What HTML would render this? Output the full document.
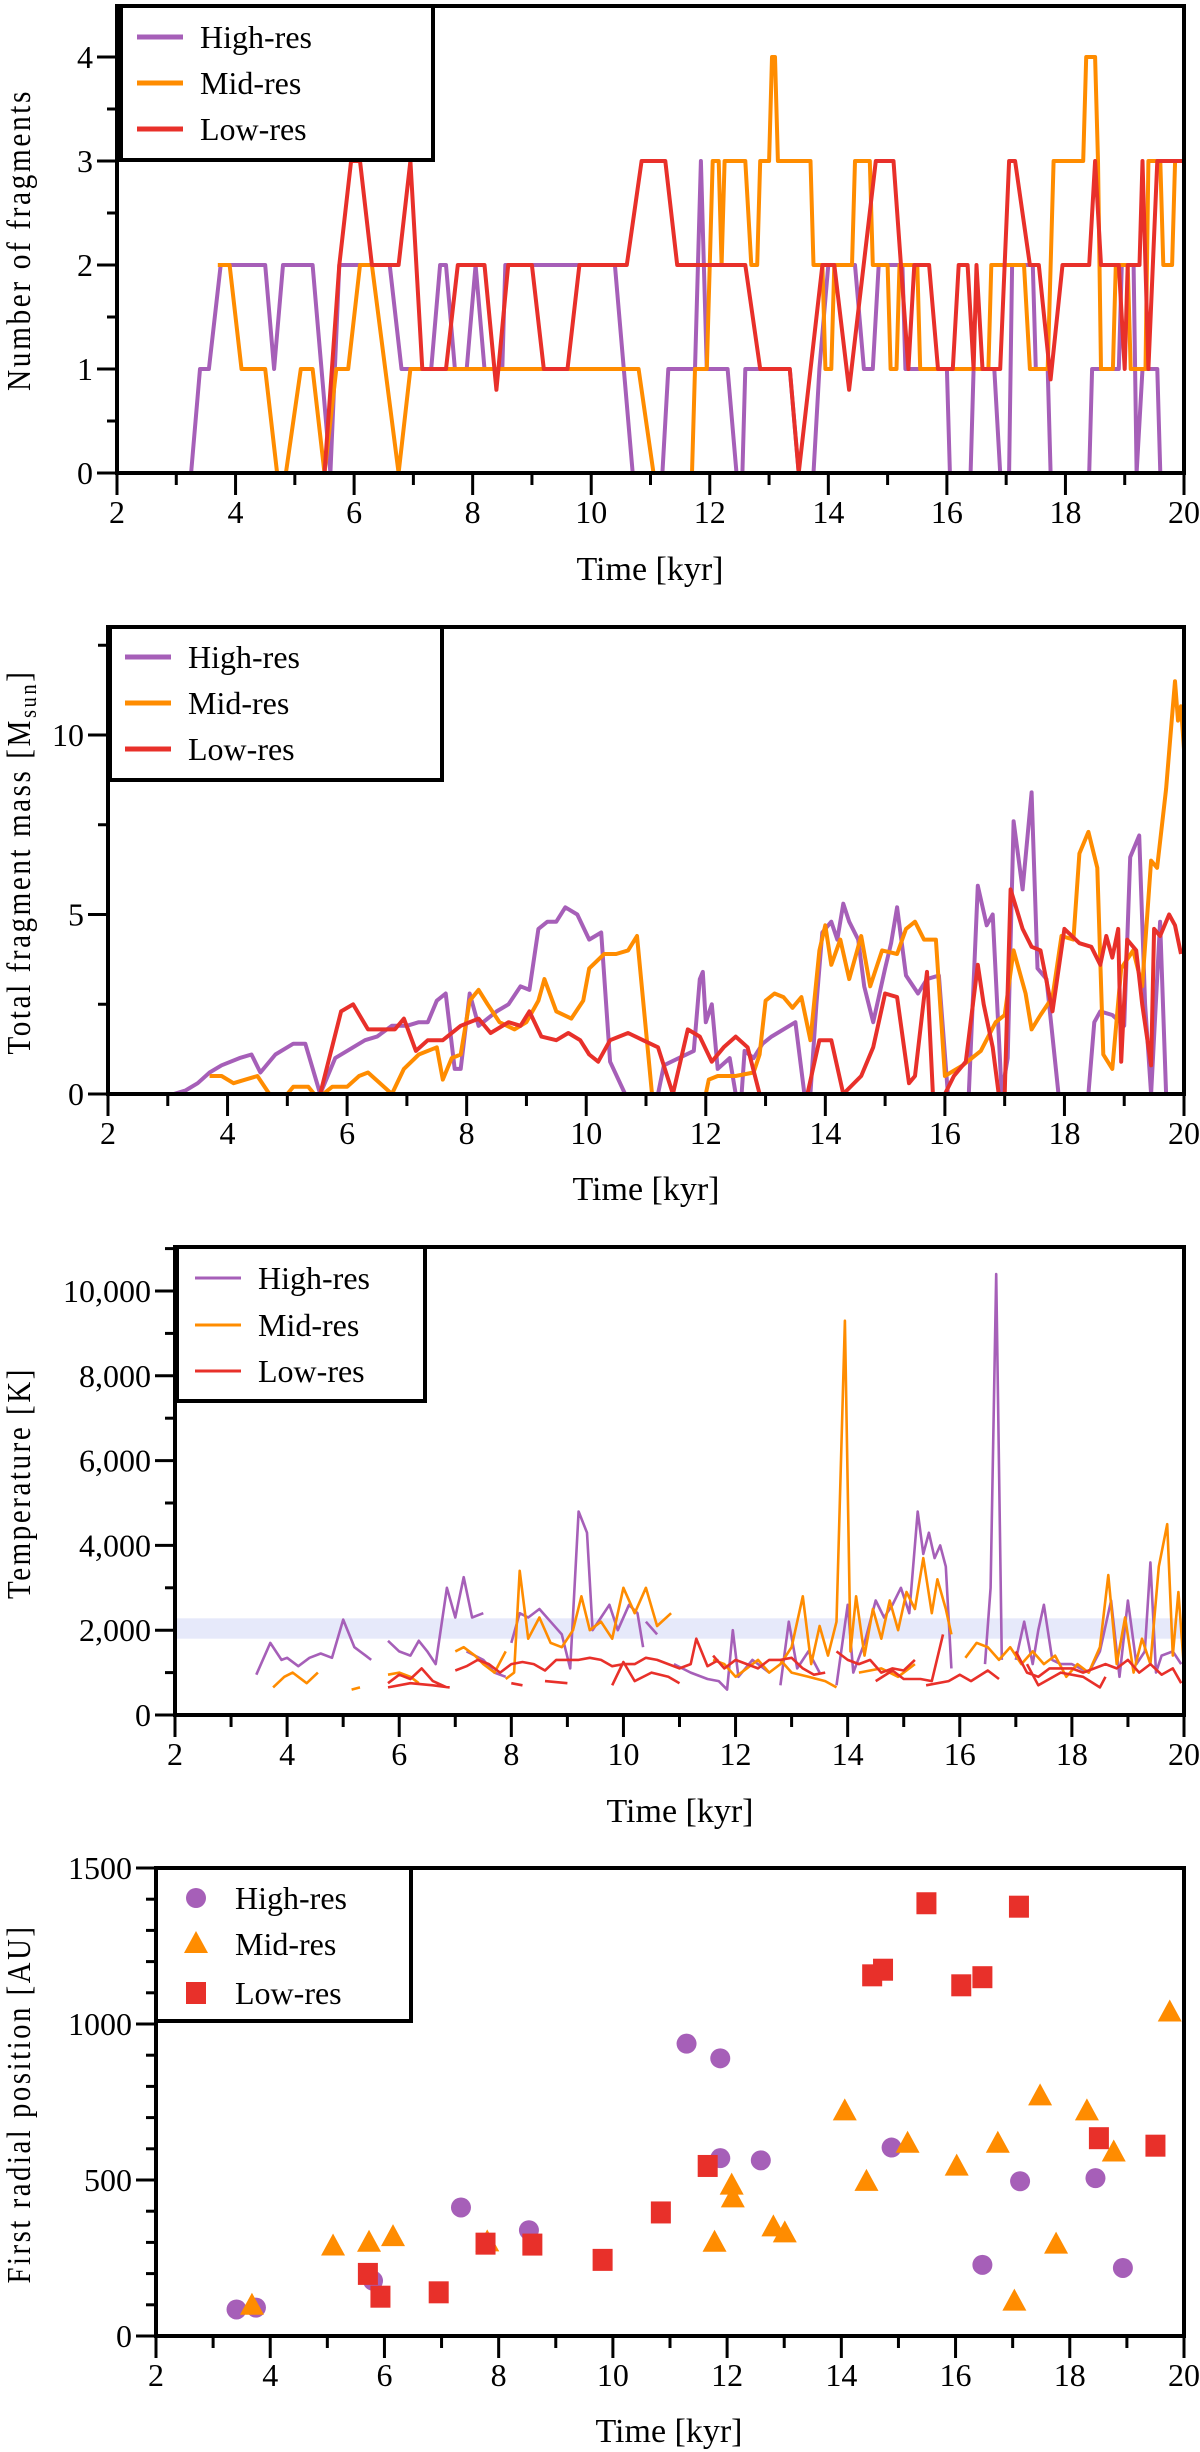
<!DOCTYPE html>
<html><head><meta charset="utf-8">
<style>
html,body{margin:0;padding:0;background:#fff;}
svg{display:block;font-family:"Liberation Serif","DejaVu Serif",serif;}
svg text{font-family:"Liberation Serif","DejaVu Serif",serif;}
</style></head>
<body>
<svg id="fig" width="1200" height="2452" viewBox="0 0 1200 2452" xmlns="http://www.w3.org/2000/svg" font-family="'Liberation Serif', 'DejaVu Serif', serif"></svg>
<script>
// ---------- Panel 1: number of fragments ----------
const fragHigh=[[3.1,0],[3.25,0],[3.4,1],[3.55,1],[3.75,2],[4.5,2],[4.65,1],[4.8,2],[5.3,2],[5.6,0],[5.75,2],[6.6,2],[6.8,1],[7.3,1],[7.45,2],[7.55,2],[7.7,1],[7.9,1],[8.05,2],[8.2,1],[8.5,1],[8.55,2],[10.4,2],[10.7,0],[11.2,0],[11.3,1],[11.75,1],[11.85,3],[11.95,1],[12.3,1],[12.45,0],[12.55,0],[12.6,1],[13.35,1],[13.5,0],[13.75,0],[13.85,1],[14.0,2],[14.45,2],[14.6,1],[14.75,1],[14.85,2],[15.25,2],[15.3,1],[16.0,1],[16.05,0],[16.4,0],[16.45,1],[16.8,1],[16.9,0],[17.05,0],[17.1,2],[17.45,2],[17.5,1],[17.7,1],[17.75,0],[18.4,0],[18.45,1],[18.9,1],[18.95,2],[19.15,2],[19.2,0],[19.3,1],[19.55,1],[19.6,0],[20,0]];
const fragMid=[[3.7,2],[3.9,2],[4.1,1],[4.5,1],[4.7,0],[4.85,0],[5.1,1],[5.3,1],[5.5,0],[5.7,1],[5.9,1],[6.1,2],[6.3,2],[6.75,0],[6.95,1],[10.8,1],[11.05,0],[11.7,0],[11.75,1],[11.95,1],[12.05,3],[12.15,3],[12.2,2],[12.25,3],[12.6,3],[12.7,2],[12.8,2],[12.85,3],[13.0,3],[13.05,4],[13.1,4],[13.15,3],[13.7,3],[13.75,2],[13.9,2],[13.95,1],[14.05,1],[14.1,2],[14.4,2],[14.45,3],[14.7,3],[14.75,2],[15.0,2],[15.05,1],[15.15,1],[15.2,2],[15.5,2],[15.55,1],[16.7,1],[16.75,2],[17.3,2],[17.4,1],[17.7,1],[17.8,3],[18.3,3],[18.35,4],[18.5,4],[18.55,3],[18.6,1],[18.8,1],[18.85,2],[19.05,2],[19.1,1],[19.35,1],[19.4,3],[19.6,3],[19.65,2],[19.8,2],[19.85,3],[20,3]];
const fragLow=[[3.9,0],[5.5,0],[5.75,2],[5.95,3],[6.1,3],[6.3,2],[6.75,2],[6.95,3],[7.15,1],[7.55,1],[7.75,2],[8.2,2],[8.4,0.8],[8.6,2],[9.0,2],[9.2,1],[9.6,1],[9.8,2],[10.6,2],[10.85,3],[11.25,3],[11.45,2],[12.6,2],[12.85,1],[13.35,1],[13.5,0],[13.9,2],[14.1,2],[14.35,0.8],[14.8,3],[15.1,3],[15.35,1],[15.45,2],[15.7,2],[15.85,1],[16.1,1],[16.2,2],[16.35,2],[16.45,1],[16.5,2],[16.6,1],[16.9,1],[17.05,3],[17.15,3],[17.4,2],[17.55,2],[17.75,0.9],[17.95,2],[18.4,2],[18.5,3],[18.6,2],[18.9,2],[19.0,1],[19.05,2],[19.25,2],[19.3,3],[19.4,1],[19.55,3],[20,3]];
const fragTicks=[0,1,2,3,4];
// ---------- Panel 2: total fragment mass ----------
const massHigh=[[3.1,0],[3.3,0.1],[3.5,0.3],[3.7,0.6],[3.9,0.8],[4.2,1.0],[4.4,1.1],[4.55,0.6],[4.8,1.1],[5.0,1.3],[5.1,1.4],[5.3,1.4],[5.55,0],[5.8,1.0],[6.0,1.2],[6.3,1.5],[6.5,1.6],[6.75,1.9],[7.0,1.9],[7.2,2.0],[7.35,2.0],[7.5,2.6],[7.65,2.8],[7.8,0.7],[7.9,0.7],[8.05,2.8],[8.2,1.9],[8.5,2.3],[8.7,2.5],[8.9,3.0],[9.05,2.9],[9.2,4.6],[9.35,4.8],[9.5,4.8],[9.65,5.2],[9.85,5.0],[10.05,4.3],[10.25,4.5],[10.4,0.9],[10.65,0],[11.2,0],[11.3,0.8],[11.55,1.0],[11.8,1.2],[11.9,3.2],[11.95,3.4],[12.0,2.0],[12.1,2.5],[12.2,0.7],[12.4,1.0],[12.5,0],[12.6,0],[12.65,1.2],[12.8,1.0],[12.95,1.4],[13.1,1.6],[13.5,2.0],[13.65,0],[13.75,0],[13.85,2.5],[13.95,4.5],[14.1,4.8],[14.2,4.3],[14.3,5.3],[14.4,4.8],[14.55,4.3],[14.65,3.0],[14.8,2.0],[15.0,3.5],[15.1,4.2],[15.2,5.2],[15.35,3.3],[15.55,2.8],[15.7,3.2],[15.9,3.3],[16.05,0],[16.4,0],[16.55,5.8],[16.7,4.7],[16.8,5.0],[16.95,0],[17.05,1.0],[17.15,7.6],[17.3,5.7],[17.45,8.4],[17.55,3.5],[17.7,3.2],[17.9,0],[18.4,0],[18.5,2.0],[18.6,2.3],[18.8,2.2],[19.0,1.9],[19.1,6.6],[19.25,7.2],[19.35,2.5],[19.45,0],[19.6,4.8],[19.7,0],[20,0]];
const massMid=[[3.7,0.5],[3.9,0.5],[4.1,0.3],[4.3,0.4],[4.5,0.5],[4.7,0],[5.0,0],[5.1,0.2],[5.35,0.2],[5.45,0],[5.6,0],[5.75,0.2],[6.0,0.2],[6.2,0.5],[6.35,0.6],[6.75,0],[6.95,0.7],[7.2,1.1],[7.5,1.3],[7.6,0.4],[7.75,1.0],[7.9,1.1],[8.05,2.6],[8.2,2.9],[8.35,2.5],[8.55,2.0],[8.8,1.8],[9.0,2.0],[9.2,2.6],[9.3,3.2],[9.5,2.3],[9.75,2.1],[9.95,2.6],[10.05,3.5],[10.3,3.9],[10.5,3.9],[10.7,4.0],[10.85,4.4],[11.1,0],[12.0,0],[12.05,0.4],[12.2,0.5],[12.5,0.5],[12.8,0.6],[12.9,1.1],[13.0,2.6],[13.15,2.8],[13.3,2.7],[13.45,2.4],[13.6,2.7],[13.75,1.5],[13.9,4.0],[14.0,4.7],[14.1,3.6],[14.25,4.3],[14.4,3.2],[14.6,4.4],[14.75,3.0],[14.95,4.0],[15.2,3.9],[15.35,4.6],[15.5,4.8],[15.65,4.3],[15.85,4.3],[16.0,0.5],[16.3,0.8],[16.6,1.2],[16.85,2.0],[17.0,2.2],[17.15,4.0],[17.35,2.8],[17.45,1.8],[17.6,2.2],[17.8,2.7],[17.95,4.4],[18.15,4.3],[18.25,6.7],[18.4,7.3],[18.55,6.3],[18.65,1.1],[18.8,0.7],[18.95,3.5],[19.15,4.0],[19.3,3.0],[19.45,6.5],[19.55,6.3],[19.7,8.5],[19.8,10.5],[19.85,11.5],[19.9,10.4],[19.95,10.8],[20.0,9.6]];
const massLow=[[3.9,0],[5.55,0],[5.9,2.3],[6.1,2.5],[6.35,1.8],[6.6,1.8],[6.8,1.8],[6.95,2.1],[7.15,1.2],[7.35,1.5],[7.6,1.5],[7.9,1.9],[8.2,2.1],[8.4,1.7],[8.7,2.0],[8.9,1.9],[9.05,2.3],[9.25,1.6],[9.5,1.5],[9.7,1.7],[9.9,1.5],[10.05,1.1],[10.2,0.9],[10.4,1.5],[10.7,1.7],[10.95,1.5],[11.2,1.3],[11.45,0],[11.7,1.8],[11.9,1.6],[12.1,0.9],[12.3,1.3],[12.5,1.6],[12.7,1.3],[12.9,0],[13.7,0],[13.9,1.5],[14.1,1.5],[14.3,0],[14.6,0.5],[14.8,1.3],[15.0,2.8],[15.2,2.7],[15.4,0.3],[15.5,0.5],[15.7,3.4],[15.8,0],[16.0,0],[16.15,0.5],[16.35,0.9],[16.55,3.6],[16.65,2.5],[16.8,1.3],[16.9,0],[17.0,0],[17.1,5.7],[17.3,4.6],[17.45,4.1],[17.6,4.0],[17.8,2.3],[18.0,4.6],[18.25,4.2],[18.45,4.1],[18.6,3.6],[18.7,4.4],[18.8,3.8],[18.9,4.6],[18.95,0.9],[19.05,4.3],[19.2,4.0],[19.3,2.5],[19.45,0.8],[19.5,4.6],[19.6,4.4],[19.75,5.0],[19.85,4.7],[19.95,3.9]];
const massTicks=[0,5,10];
// ---------- Panel 3: temperature (null = gap) ----------
const tempHigh=[[3.45,950],[3.7,1700],[3.9,1300],[4.0,1350],[4.2,1150],[4.4,1350],[4.6,1450],[4.8,1350],[5.0,2250],[5.2,1600],[5.4,1400],[5.5,1300],null,[5.8,1750],[6.0,1500],[6.2,1400],[6.35,1750],[6.5,1500],[6.65,1200],[6.85,3000],[7.0,2300],[7.15,3250],[7.3,2300],[7.5,2400],null,[7.2,1500],[7.5,1300],[7.7,1000],[7.9,900],null,[8.0,1700],[8.15,2400],[8.3,2300],[8.5,2500],[8.7,2200],[8.9,1900],[9.05,1100],[9.2,4800],[9.35,4300],[9.45,2000],[9.6,2300],[9.75,2600],[9.9,2000],[10.1,2600],[10.25,2400],[10.35,1600],null,[10.4,2200],[10.6,1900],null,[10.9,1200],[11.2,1000],[11.5,850],[11.7,800],[11.85,600],[11.95,2000],[12.05,900],[12.3,1300],[12.6,1000],null,[12.8,700],[12.95,2200],[13.1,1100],[13.3,1500],[13.5,1000],null,[13.8,700],[14.0,2600],[14.1,1000],[14.3,1700],[14.5,2700],[14.65,2300],[14.8,2600],[14.95,3000],[15.1,2400],[15.25,4800],[15.35,3800],[15.45,4300],[15.55,3700],[15.65,4000],[15.75,3500],[15.85,1100],null,[16.45,1200],[16.55,3000],[16.65,10400],[16.75,1300],null,[17.0,1300],[17.15,2200],[17.3,1200],[17.4,2000],[17.5,2600],[17.65,1300],[17.8,1200],[18.0,1200],[18.3,1000],[18.5,1500],[18.7,2700],[18.85,900],[19.0,2700],[19.15,1200],[19.3,1500],[19.4,3600],[19.5,1000],[19.6,1400],[19.8,1500],[19.95,1200]];
const tempMid=[[3.75,650],[3.95,900],[4.1,1000],[4.35,750],[4.55,1000],null,[5.15,600],[5.3,650],null,[5.8,950],[6.0,1000],[6.2,900],[6.35,750],null,[7.0,1500],[7.15,1600],[7.35,1400],[7.5,1200],[7.7,1000],[7.9,1500],null,[7.9,850],[8.05,1000],[8.15,3400],[8.3,1800],[8.5,2300],[8.7,1700],[8.9,1600],[9.1,2000],[9.25,2800],[9.4,2000],[9.6,2200],[9.8,1800],[10.0,3000],[10.2,2400],[10.4,3000],[10.6,2100],[10.85,2400],null,[11.6,1300],[11.8,1200],[12.0,900],[12.2,1100],[12.4,1300],[12.6,1000],[12.8,1200],[13.0,1600],[13.2,2800],[13.35,1200],[13.5,2100],[13.65,1400],[13.8,2200],[13.95,9300],[14.05,1500],[14.15,2800],[14.3,1400],[14.45,2500],[14.6,1800],[14.75,2700],[14.9,2000],[15.05,2900],[15.2,2500],[15.35,3700],[15.5,2400],[15.6,3200],[15.75,2500],[15.85,1900],null,[12.8,1300],[13.0,1000],[13.3,900],[13.6,800],[13.8,650],null,[14.2,1000],[14.6,1100],[14.9,900],[15.2,1200],null,[16.1,1350],[16.3,1700],[16.5,1600],[16.7,1300],[16.9,1600],[17.1,1200],[17.3,1500],[17.5,1200],[17.7,1400],[17.9,900],[18.1,1200],[18.3,1000],[18.5,1600],[18.65,3300],[18.8,1200],[18.95,2300],[19.1,1000],[19.25,1800],[19.4,1200],[19.55,3500],[19.7,4500],[19.8,1400],[19.9,2900],[20.0,1100]];
const tempLow=[[5.8,750],[6.0,950],[6.2,850],[6.4,1100],[6.6,800],[6.85,650],null,[5.8,650],[6.2,750],[6.6,700],[6.9,650],null,[7.0,1050],[7.2,1150],[7.4,1300],[7.6,1200],[7.8,1000],[8.0,1200],[8.2,1250],[8.4,1200],[8.6,1050],[8.8,1300],[9.0,1300],[9.2,1300],[9.4,1350],[9.6,1300],[9.8,1150],[10.0,1200],[10.2,1200],[10.4,1350],[10.6,1300],[10.8,1200],[11.0,1100],[11.2,1200],[11.3,1800],[11.5,1150],[11.7,1300],null,[8.0,750],[8.2,700],null,[8.6,800],[9.0,750],null,[9.8,700],[10.0,1250],[10.2,800],[10.5,1000],[10.8,900],[11.0,750],null,[11.6,1400],[11.8,1100],[12.0,1300],[12.2,1200],[12.4,1100],[12.6,1300],[12.8,1300],[13.0,1350],[13.2,1100],[13.4,950],[13.6,1000],null,[13.8,1500],[14.0,1300],[14.2,1200],[14.4,1300],[14.6,1000],[14.8,1100],[15.0,1050],[15.2,1300],null,[14.5,800],[14.8,1050],[15.0,850],[15.3,850],[15.5,800],[15.7,1900],null,[15.4,700],[15.8,800],[16.0,950],[16.2,800],[16.5,1050],[16.7,850],null,[17.0,1500],[17.2,1000],[17.4,900],[17.6,1100],[17.8,1100],[18.0,1100],[18.2,1000],[18.4,1100],[18.6,1200],[18.8,1100],[19.0,1300],[19.2,1000],[19.4,1200],[19.6,950],[19.8,1100],[19.95,750],null,[17.2,1200],[17.4,700],[17.8,1000],[18.2,900],[18.5,650],[18.6,900]];
const tempTicks=[0,2000,4000,6000,8000,10000];
const tempTickLabels=["0","2,000","4,000","6,000","8,000","10,000"];
const tempBand=[1800,2280];
// ---------- Panel 4: first radial position ----------
const radHighT=[3.41,3.75,5.8,7.34,8.53,11.29,11.88,11.88,12.59,14.88,16.47,17.13,18.45,18.93];
const radHighR=[85,91,177,412,339,937,890,570,563,604,228,496,506,218];
const radMidT=[3.68,5.1,5.73,6.15,7.8,11.78,12.08,12.1,12.81,13.01,14.06,14.44,15.16,16.02,16.74,17.03,17.48,17.76,18.3,18.77,19.75];
const radMidR=[97,287,299,317,300,299,482,441,348,329,720,494,616,543,616,110,768,293,720,588,1037];
const radLowT=[5.71,5.93,6.95,7.77,8.59,9.82,10.84,11.66,14.54,14.73,15.49,16.1,16.47,17.11,18.51,19.5];
const radLowR=[199,126,140,296,293,244,396,545,1156,1174,1387,1124,1150,1376,634,610];
const radTicks=[0,500,1000,1500];
const timeTicks=[2,4,6,8,10,12,14,16,18,20];

const C={hi:"#a65fb8",mid:"#ff8c00",low:"#e8302a"};
const NS="http://www.w3.org/2000/svg";
const FONT="'Liberation Serif', 'DejaVu Serif', serif";
const svg=document.getElementById('fig');
function mk(tag,attrs,parent){const e=document.createElementNS(NS,tag);for(const k in attrs)e.setAttribute(k,attrs[k]);if(tag==='text')e.setAttribute('font-family',FONT);(parent||svg).appendChild(e);return e;}

function axes(p){
  const g=mk('g',{});
  
  
  p.sx=t=>p.left+(t-2)/18*(p.right-p.left);
  p.sy=v=>p.zero-(v-p.vmin)*p.ppu;
  p.g=g;
  return p;
}
function frame(p){
  const g=p.g;
  mk('rect',{x:p.left,y:p.top,width:p.right-p.left,height:p.zero-p.top,fill:'none',stroke:'#000','stroke-width':4},g);
  for(let t=2;t<=20;t++){
    const x=p.sx(t),maj=t%2===0;
    mk('line',{x1:x,x2:x,y1:p.zero,y2:p.zero+(maj?22:12),stroke:'#000','stroke-width':3},g);
  }
  timeTicks.forEach(t=>{
    const tx=mk('text',{x:p.sx(t),y:p.zero+50,'text-anchor':'middle','font-size':32},g);
    
    
    tx.textContent=t;
  });
  for(let v=p.vmin;v<=p.vmaxTick+1e-9;v+=p.minor){
    const y=p.sy(v);
    const isMaj=p.ticks.some(m=>Math.abs(m-v)<1e-6);
    mk('line',{x1:p.left-(isMaj?20:10),x2:p.left,y1:y,y2:y,stroke:'#000','stroke-width':3},g);
  }
  p.ticks.forEach((v,i)=>{
    const tx=mk('text',{x:p.left-24,y:p.sy(v)+11,'text-anchor':'end','font-size':32},g);
    
    
    tx.textContent=p.labels?p.labels[i]:v;
  });
  const xt=mk('text',{x:p.xtx,y:p.xty,'text-anchor':'middle','font-size':34},g);
  
  
  xt.textContent='Time [kyr]';
  const yt=mk('text',{x:0,y:0,'text-anchor':'middle','font-size':34,'letter-spacing':'3',transform:`translate(${p.ytx},${p.ytc}) rotate(-90)`,textLength:p.ytl,lengthAdjust:'spacingAndGlyphs'},g);
  
  
  if(p.sub){yt.textContent=p.ytitle;const ts=mk('tspan',{'font-size':24,dy:6},yt);ts.textContent='sun';const t2=mk('tspan',{dy:-6},yt);t2.textContent=']';}
  else yt.textContent=p.ytitle;
}
function line(p,data,color,w,name){
  let d='',pen=false;
  data.forEach(pt=>{
    if(pt===null){pen=false;return;}
    d+=(pen?'L':'M')+p.sx(pt[0]).toFixed(1)+' '+p.sy(pt[1]).toFixed(1)+' ';pen=true;
  });
  const e=mk('path',{d:d,fill:'none',stroke:color,'stroke-width':w,'stroke-linejoin':'round'},p.g);
  
  
}
function legendLines(p,w){
  const L=p.leg;
  const r=mk('rect',{x:L.x,y:L.y,width:L.w,height:L.h,fill:'#fff',stroke:'#000','stroke-width':4},p.g);
  
  
  [['High-res',C.hi],['Mid-res',C.mid],['Low-res',C.low]].forEach((e,i)=>{
    const y=L.ys[i];
    const ln=mk('line',{x1:L.lx,x2:L.lx+46,y1:y,y2:y,stroke:e[1],'stroke-width':w},p.g);
    
    
    const t=mk('text',{x:L.tx,y:y+11,'font-size':32},p.g);
    
    
    t.textContent=e[0];
  });
}

const p1=axes({name:'fragments-panel',left:117,right:1184,top:6,zero:473,vmin:0,ppu:104,ticks:fragTicks,minor:0.5,vmaxTick:4.4,xtx:650,xty:580,ytx:30,ytc:240,ytl:302,ytitle:'Number of fragments'});
line(p1,fragHigh,C.hi,4,'high-res-fragments-line');
line(p1,fragMid,C.mid,4,'mid-res-fragments-line');
line(p1,fragLow,C.low,4,'low-res-fragments-line');
frame(p1);
p1.leg={x:121,y:6,w:312,h:154,lx:137,tx:200,ys:[37,83,129]};legendLines(p1,5);

const p2=axes({name:'mass-panel',left:108,right:1184,top:627,zero:1094,vmin:0,ppu:35.9,ticks:massTicks,minor:2.5,vmaxTick:12.5,xtx:646,xty:1200,ytx:30,ytc:862,ytl:385,ytitle:'Total fragment mass [M',sub:true});
line(p2,massHigh,C.hi,4,'high-res-mass-line');
line(p2,massMid,C.mid,4,'mid-res-mass-line');
line(p2,massLow,C.low,4,'low-res-mass-line');
frame(p2);
p2.leg={x:110,y:627,w:332,h:153,lx:125,tx:188,ys:[657,703,749]};legendLines(p2,5);

const p3=axes({name:'temperature-panel',left:175,right:1184,top:1247,zero:1715,vmin:0,ppu:0.0424,ticks:tempTicks,labels:tempTickLabels,minor:1000,vmaxTick:11000,xtx:680,xty:1822,ytx:30,ytc:1483,ytl:232,ytitle:'Temperature [K]'});
const band=mk('rect',{x:p3.left,y:p3.sy(tempBand[1]),width:p3.right-p3.left,height:p3.sy(tempBand[0])-p3.sy(tempBand[1]),fill:'#e6e9fa'},p3.g);


line(p3,tempHigh,C.hi,2.6,'high-res-temperature-line');
line(p3,tempMid,C.mid,2.6,'mid-res-temperature-line');
line(p3,tempLow,C.low,2.6,'low-res-temperature-line');
frame(p3);
p3.leg={x:177,y:1247,w:248,h:154,lx:195,tx:258,ys:[1278,1325,1371]};legendLines(p3,3);

const p4=axes({name:'radial-position-panel',left:156,right:1184,top:1868,zero:2336,vmin:0,ppu:0.312,ticks:radTicks,minor:100,vmaxTick:1500,xtx:669,xty:2442,ytx:30,ytc:2104,ytl:359,ytitle:'First radial position [AU]'});
function circ(x,y,g){return mk('ellipse',{cx:x,cy:y,rx:10,ry:10,fill:C.hi},g);}
function tri(x,y,g){return mk('path',{d:`M${x} ${y-13} L${x+12} ${y+9} L${x-12} ${y+9} Z`,fill:C.mid},g);}
function sq(x,y,g){return mk('rect',{x:x-10,y:y-11,width:20,height:22,fill:C.low},g);}
radHighT.forEach((t,i)=>{const e=circ(p4.sx(t),p4.sy(radHighR[i]),p4.g);
  
  });
radMidT.forEach((t,i)=>{const e=tri(p4.sx(t),p4.sy(radMidR[i]),p4.g);
  
  });
radLowT.forEach((t,i)=>{const e=sq(p4.sx(t),p4.sy(radLowR[i]),p4.g);
  
  });
frame(p4);
(function(){
  const L={x:156,y:1868,w:255,h:153};
  const r=mk('rect',{x:L.x,y:L.y,width:L.w,height:L.h,fill:'#fff',stroke:'#000','stroke-width':4},p4.g);
  
  
  const ys=[1898,1944,1993];
  [['High-res',circ],['Mid-res',tri],['Low-res',sq]].forEach((e,i)=>{
    const m=e[1](196,ys[i],p4.g);
    
    
    const t=mk('text',{x:235,y:ys[i]+11,'font-size':32},p4.g);
    
    
    t.textContent=e[0];
  });
})();
</script>
</body></html>
